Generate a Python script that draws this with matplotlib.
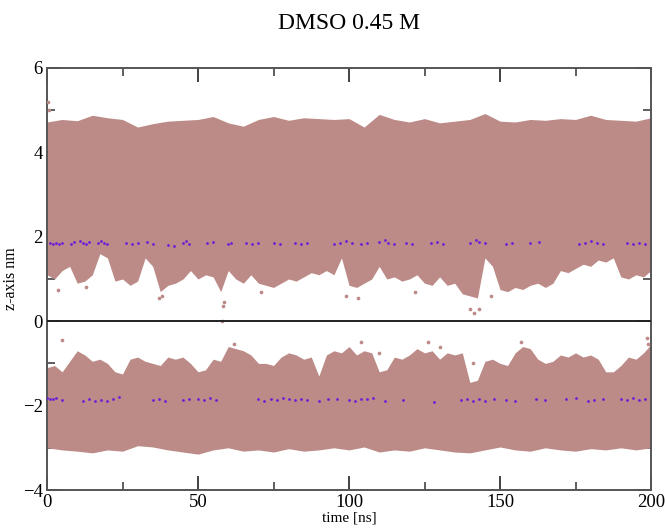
import numpy as np
import matplotlib
matplotlib.use("Agg")
import matplotlib.pyplot as plt
from matplotlib.ticker import MultipleLocator

# ---------------- data ----------------
title = "DMSO 0.45 M"
xlabel = "time [ns]"
ylabel = "z-axis nm"

# coarse time grid (ns) for the outer edges of the two bands
t_edge = [0, 5, 10, 15, 20, 25, 30, 35, 40, 45, 50, 55, 60, 65, 70, 75, 80, 85, 90, 95,
          100, 105, 110, 115, 120, 125, 130, 135, 140, 145, 150, 155, 160, 165, 170, 175,
          180, 185, 190, 195, 200]
upper_top = [4.72, 4.78, 4.75, 4.88, 4.82, 4.78, 4.60, 4.68, 4.74, 4.76, 4.78, 4.85, 4.70,
             4.62, 4.78, 4.85, 4.76, 4.82, 4.80, 4.78, 4.80, 4.60, 4.90, 4.78, 4.72, 4.80,
             4.70, 4.74, 4.78, 4.92, 4.74, 4.72, 4.78, 4.76, 4.80, 4.78, 4.88, 4.78, 4.76,
             4.74, 4.82]
lower_bottom = [-3.00, -3.05, -3.08, -3.12, -3.05, -3.08, -2.95, -2.98, -3.05, -3.10, -3.15,
                -3.05, -3.00, -3.08, -3.05, -3.10, -3.02, -3.08, -3.05, -3.00, -3.05, -2.98,
                -3.10, -3.05, -3.08, -3.00, -3.05, -3.10, -3.12, -3.05, -2.98, -3.05, -3.08,
                -3.00, -3.05, -3.08, -3.02, -3.05, -3.00, -3.05, -3.00]

# fine time grid (ns) for the ragged inner edges
t_fine = [0, 2.5, 5, 7.5, 10, 12.5, 15, 17.5, 20, 22.5, 25, 27.5, 30, 32.5, 35, 37.5, 40,
          42.5, 45, 47.5, 50, 52.5, 55, 57.5, 60, 62.5, 65, 67.5, 70, 72.5, 75, 77.5, 80,
          82.5, 85, 87.5, 90, 92.5, 95, 97.5, 100, 102.5, 105, 107.5, 110, 112.5, 115,
          117.5, 120, 122.5, 125, 127.5, 130, 132.5, 135, 137.5, 140, 142.5, 145, 147.5,
          150, 152.5, 155, 157.5, 160, 162.5, 165, 167.5, 170, 172.5, 175, 177.5, 180,
          182.5, 185, 187.5, 190, 192.5, 195, 197.5, 200]
upper_sparse_bottom = [1.10, 1.00, 1.20, 1.30, 0.90, 0.95, 1.10, 1.60, 1.50, 0.95, 1.00, 0.85,
                       0.95, 1.50, 1.30, 0.70, 0.85, 0.90, 1.00, 1.20, 1.00, 1.10, 1.05, 0.70,
                       1.20, 1.00, 0.90, 1.10, 0.90, 0.85, 0.80, 0.90, 1.00, 0.95, 1.05, 1.15,
                       1.10, 1.20, 1.10, 1.50, 0.85, 0.80, 0.90, 1.00, 1.30, 1.00, 1.05, 0.95,
                       1.00, 1.10, 0.90, 0.85, 1.05, 0.85, 0.90, 0.65, 0.60, 0.55, 1.50, 1.30,
                       0.75, 0.70, 0.80, 0.75, 0.85, 0.90, 0.80, 0.90, 1.20, 1.15, 1.25, 1.35,
                       1.30, 1.45, 1.40, 1.50, 1.05, 1.00, 1.10, 1.05, 1.20]
lower_sparse_top = [-1.10, -1.05, -1.20, -0.95, -0.70, -0.80, -0.95, -0.90, -1.00, -1.20, -1.25,
                    -0.90, -0.85, -0.95, -1.00, -1.05, -0.85, -0.90, -0.85, -1.00, -1.20, -1.15,
                    -0.90, -0.95, -0.60, -0.65, -0.70, -0.80, -1.00, -1.00, -1.05, -0.85, -0.75,
                    -0.80, -0.90, -0.85, -1.30, -0.80, -0.70, -0.75, -0.60, -0.80, -0.70, -0.75,
                    -1.20, -1.15, -0.85, -0.90, -0.80, -0.65, -0.75, -0.70, -0.90, -0.75, -0.80,
                    -0.75, -1.45, -1.40, -0.95, -0.90, -1.00, -1.05, -0.75, -0.60, -0.65, -0.90,
                    -1.00, -0.95, -0.80, -0.85, -0.75, -0.85, -0.80, -0.90, -1.20, -1.20, -1.05,
                    -0.85, -0.90, -0.75, -0.55]

# isolated outlying points (time ns, z nm)
out_t = [0.3, 0.5, 3.5, 13, 37, 38, 58, 58.3, 58.5, 71, 99, 103, 122, 140, 141.5, 143, 147,
         5, 62, 104, 110, 126, 130, 141, 157, 198.5, 199]
out_z = [5.2, 5.0, 0.75, 0.8, 0.55, 0.6, 0.0, 0.35, 0.45, 0.7, 0.6, 0.55, 0.7, 0.3, 0.2, 0.3,
         0.6, -0.45, -0.55, -0.5, -0.75, -0.5, -0.6, -1.0, -0.5, -0.4, -0.55]

# blue points (second group) close to +-1.85 nm
blue_up_t = [1, 2, 3, 4, 5, 8, 9, 11, 12, 13, 14, 17, 18, 19, 20, 26, 28, 30, 33, 35, 40, 42,
             45, 46, 47, 53, 55, 60, 61, 66, 68, 70, 75, 77, 82, 84, 86, 95, 97, 99, 101, 104,
             106, 110, 112, 113, 115, 119, 121, 127, 129, 131, 140, 142, 143, 145, 152, 154,
             160, 163, 176, 178, 180, 182, 184, 192, 194, 196, 198]
blue_up_z = [1.85, 1.84, 1.86, 1.83, 1.85, 1.84, 1.88, 1.90, 1.86, 1.84, 1.88, 1.86, 1.90,
             1.85, 1.84, 1.86, 1.83, 1.85, 1.88, 1.84, 1.80, 1.78, 1.86, 1.90, 1.84, 1.85,
             1.88, 1.84, 1.86, 1.85, 1.83, 1.86, 1.85, 1.84, 1.86, 1.83, 1.85, 1.84, 1.86,
             1.90, 1.85, 1.82, 1.86, 1.88, 1.92, 1.85, 1.84, 1.86, 1.83, 1.85, 1.88, 1.84,
             1.86, 1.92, 1.88, 1.85, 1.84, 1.86, 1.85, 1.88, 1.83, 1.86, 1.90, 1.85, 1.84,
             1.86, 1.83, 1.85, 1.82]
blue_lo_t = [0, 1, 2, 3, 5, 12, 14, 16, 18, 20, 22, 24, 35, 37, 39, 45, 47, 50, 52, 54, 56,
             70, 72, 74, 76, 78, 80, 82, 84, 86, 90, 93, 96, 100, 102, 104, 106, 108, 112,
             118, 128, 137, 139, 141, 143, 145, 148, 152, 155, 162, 165, 172, 175, 179, 181,
             184, 190, 192, 194, 196, 198]
blue_lo_z = [-1.82, -1.84, -1.85, -1.83, -1.86, -1.88, -1.84, -1.90, -1.86, -1.88, -1.84,
             -1.80, -1.86, -1.84, -1.88, -1.86, -1.84, -1.85, -1.87, -1.83, -1.86, -1.85,
             -1.88, -1.84, -1.86, -1.83, -1.85, -1.87, -1.84, -1.86, -1.90, -1.85, -1.84,
             -1.86, -1.88, -1.84, -1.85, -1.83, -1.90, -1.86, -1.92, -1.86, -1.84, -1.88,
             -1.85, -1.90, -1.84, -1.86, -1.88, -1.84, -1.86, -1.85, -1.83, -1.88, -1.86,
             -1.84, -1.85, -1.87, -1.83, -1.86, -1.85]

# ---------------- drawing ----------------
pink = "#bc8b87"
blue = "#6a1fd8"

fig = plt.figure(figsize=(6.65, 5.29), dpi=100)
ax = fig.add_axes([0.0707, 0.0737, 0.9083, 0.7978])

# outer edges put on the fine grid so each band is one filled shape
up_top_fine = np.interp(t_fine, t_edge, upper_top)
lo_bot_fine = np.interp(t_fine, t_edge, lower_bottom)
ax.fill_between(t_fine, up_top_fine, upper_sparse_bottom, color=pink, lw=0, zorder=2)
ax.fill_between(t_fine, lo_bot_fine, lower_sparse_top, color=pink, lw=0, zorder=2)

ax.scatter(out_t, out_z, s=7, color=pink, lw=0, zorder=3)
ax.scatter(blue_up_t, blue_up_z, s=4, color=blue, lw=0, zorder=4)
ax.scatter(blue_lo_t, blue_lo_z, s=4, color=blue, lw=0, zorder=4)

ax.axhline(0, color="#222222", lw=1.4, zorder=5)

ax.set_xlim(0, 200)
ax.set_ylim(-4, 6)
ax.xaxis.set_major_locator(MultipleLocator(50))
ax.xaxis.set_minor_locator(MultipleLocator(25))
ax.yaxis.set_major_locator(MultipleLocator(2))
ax.yaxis.set_minor_locator(MultipleLocator(1))
ax.tick_params(which="both", direction="in", top=True, right=True, color="#333333")
ax.tick_params(which="major", length=10, width=1.3, labelsize=13.5)
ax.tick_params(axis="y", which="major", pad=3)
ax.tick_params(axis="x", which="major", pad=3)
ax.tick_params(which="minor", length=6, width=1.1)
for sp in ax.spines.values():
    sp.set_color("#555555")
    sp.set_linewidth(1.4)

serif = "Liberation Serif"
for lab in ax.get_xticklabels() + ax.get_yticklabels():
    lab.set_fontfamily(serif)
ax.set_xlabel(xlabel, fontsize=11, family=serif)
ax.set_ylabel(ylabel, fontsize=11.5, family=serif)
ax.xaxis.set_label_coords(0.5, -0.051)
ax.yaxis.set_label_coords(-0.046, 0.5)
ax.set_title(title, fontsize=17, family=serif, pad=28)

fig.savefig("out.png", dpi=100)
